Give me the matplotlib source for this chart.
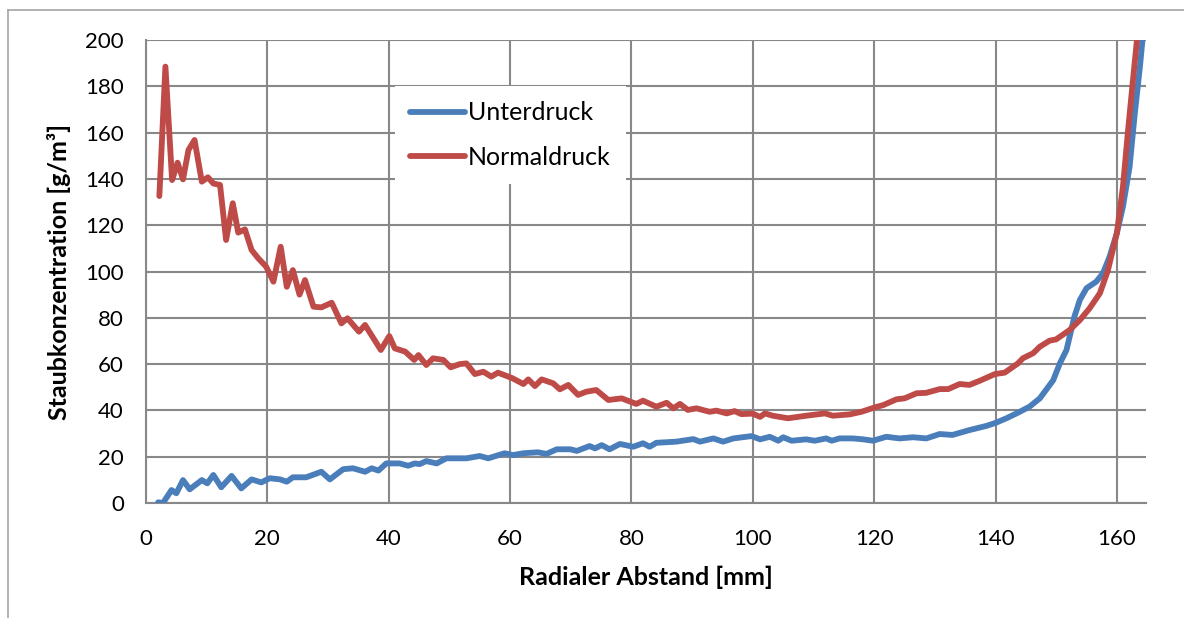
import matplotlib
matplotlib.use('Agg')
import matplotlib.pyplot as plt
from matplotlib.lines import Line2D

# Values.
x_unter = [2.0, 2.8, 4.2, 5.0, 6.1, 7.2, 9.2, 10.1, 11.1, 12.4, 14.1, 15.7, 17.4, 19.0,
           20.4, 22.1, 23.2, 24.2, 26.4, 28.9, 30.3, 32.5, 34.1, 36.1, 37.2, 38.3, 39.6,
           41.8, 43.2, 44.3, 45.1, 46.2, 47.9, 49.5, 52.8, 55.0, 56.4, 59.1, 60.5, 62.2,
           64.6, 66.0, 67.7, 69.9, 71.0, 73.1, 74.0, 75.1, 76.4, 78.1, 80.3, 81.9, 83.0,
           84.1, 87.4, 90.2, 91.3, 93.5, 95.1, 96.8, 99.8, 101.2, 102.8, 104.2, 105.0,
           106.4, 108.8, 110.2, 112.1, 113.0, 114.3, 116.5, 118.2, 119.8, 122.0, 124.2,
           126.4, 128.6, 130.8, 132.9, 135.7, 138.5, 140.1, 141.8, 143.7, 145.6, 147.3,
           149.5, 150.6, 151.7, 153.0, 153.9, 155.0, 156.6, 157.7, 158.8, 160.0, 161.0,
           162.1, 162.9, 163.8, 164.4]
y_unter = [0.3, 0.0, 5.6, 4.2, 9.9, 5.9, 9.9, 8.5, 12.1, 6.8, 11.7, 6.3, 10.2, 8.9,
           10.7, 10.2, 9.2, 11.1, 11.1, 13.5, 10.2, 14.6, 15.0, 13.5, 15.0, 14.0, 17.1,
           17.1, 16.1, 17.1, 16.8, 18.1, 17.1, 19.3, 19.3, 20.3, 19.3, 21.5, 20.7, 21.5,
           21.9, 21.2, 23.2, 23.2, 22.5, 24.6, 23.6, 25.0, 23.2, 25.5, 24.3, 25.8, 24.3,
           26.0, 26.5, 27.6, 26.5, 27.9, 26.5, 27.9, 28.9, 27.5, 28.6, 26.9, 28.4,
           26.9, 27.5, 26.9, 27.9, 26.9, 27.9, 27.9, 27.5, 26.9, 28.6, 27.9,
           28.4, 27.9, 29.8, 29.4, 31.5, 33.3, 34.7, 36.6, 39.0, 41.6, 45.2,
           53.0, 60.3, 66.1, 80.5, 87.7, 92.8, 95.6, 99.2, 106.4, 116.6, 128.0,
           145.3, 166.9, 188.5, 205.0]

x_normal = [2.2, 3.2, 4.3, 5.2, 6.1, 7.0, 8.0, 9.2, 10.2, 11.1, 12.2, 13.2, 14.3, 15.2,
            16.3, 17.4, 18.5, 19.8, 21.0, 22.2, 23.2, 24.2, 25.3, 26.2, 27.6, 28.9, 30.6,
            32.2, 33.2, 35.1, 36.1, 38.7, 40.1, 41.0, 42.7, 44.2, 44.9, 46.2, 47.3, 49.0,
            50.2, 51.7, 52.8, 54.2, 55.6, 56.9, 58.0, 60.3, 62.2, 63.0, 64.1, 65.2, 67.1,
            68.2, 69.6, 71.2, 72.6, 74.2, 76.2, 78.4, 80.8, 81.9, 84.1, 85.8, 86.9, 88.0,
            89.3, 90.7, 92.9, 94.0, 95.7, 97.0, 98.1, 100.0, 101.2, 102.0, 103.3, 105.8,
            108.8, 111.9, 113.2, 116.0, 117.9, 120.1, 121.5, 123.7, 125.0, 127.0, 128.6,
            130.8, 132.2, 134.1, 135.7, 137.4, 139.9, 141.5, 143.7, 144.5, 146.2, 147.3,
            148.9, 150.0, 152.2, 153.9, 155.5, 157.2, 158.5, 160.0, 161.0, 161.8, 162.6,
            163.5]
y_normal = [132.6, 188.5, 139.5, 147.0, 139.8, 152.5, 156.8, 138.8, 140.7, 138.0, 137.4,
            113.6, 129.5, 116.8, 118.2, 109.3, 105.7, 102.1, 95.6, 110.7, 93.4, 100.6,
            90.0, 96.3, 84.8, 84.5, 86.5, 77.6, 79.8, 74.0, 76.9, 66.1, 72.1, 66.8, 65.4,
            61.8, 63.9, 59.6, 62.5, 61.8, 58.6, 60.0, 60.3, 55.7, 56.7, 54.6, 56.3, 54.0,
            51.4, 53.4, 50.5, 53.4, 51.7, 49.1, 51.0, 46.7, 48.1, 48.8, 44.5, 45.2, 42.8,
            44.2, 41.6, 43.3, 40.9, 42.8, 40.2, 40.9, 39.4, 39.9, 38.7, 39.7, 38.4, 38.6,
            37.2, 38.7, 37.7, 36.6, 37.7, 38.7, 37.7, 38.3, 39.4, 41.3, 42.3, 44.8, 45.2,
            47.4, 47.6, 49.2, 49.2, 51.4, 51.0, 52.8, 55.7, 56.3, 60.3, 62.5, 64.7, 67.5,
            70.1, 70.7, 74.7, 79.0, 84.1, 90.6, 100.3, 116.6, 136.6, 159.7, 181.3,
            205.0]

x_ticks = [0, 20, 40, 60, 80, 100, 120, 140, 160]
y_ticks = [0, 20, 40, 60, 80, 100, 120, 140, 160, 180, 200]

plt.rcParams['font.family'] = ['Lato', 'DejaVu Sans']

fig = plt.figure(figsize=(11.84, 6.18), dpi=100)
ax = fig.add_axes([146 / 1184, 1 - 503 / 618, 1000 / 1184, 463 / 618])

grid_col = '#888888'
ax.plot(x_unter, y_unter, color='#4A7EBB', lw=4.2, label='Unterdruck',
        solid_capstyle='round', solid_joinstyle='round', zorder=3)
ax.plot(x_normal, y_normal, color='#BE4B48', lw=4.2, label='Normaldruck',
        solid_capstyle='round', solid_joinstyle='round', zorder=3)

ax.set_xlim(0, 164.8)
ax.set_ylim(0, 200)
ax.set_xticks(x_ticks)
ax.set_yticks(y_ticks)
ax.grid(True, color=grid_col, lw=1.5)
ax.set_axisbelow(True)
for side in ['top', 'right']:
    ax.spines[side].set_visible(False)
for side in ['left', 'bottom']:
    ax.spines[side].set_color(grid_col)
    ax.spines[side].set_linewidth(1.5)
ax.tick_params(length=0, labelsize=16)
ax.tick_params(axis='x', pad=19)
ax.tick_params(axis='y', pad=16)

ax.set_xlabel('Radialer Abstand [mm]', fontsize=18, fontweight='bold', labelpad=12)
ax.set_ylabel('Staubkonzentration [g/m³]', fontsize=18, fontweight='bold', labelpad=10)

leg = ax.legend(loc='upper left', bbox_to_anchor=(0.236, 0.927), frameon=True,
                fontsize=18, handlelength=2.2, handletextpad=0.15, labelspacing=0.85,
                borderpad=0.6, fancybox=False)
leg.get_frame().set_facecolor('white')
leg.get_frame().set_edgecolor('none')
leg.get_frame().set_alpha(1)
for h in leg.get_lines():
    h.set_linewidth(4.2)

# Outer chart border.
fig.add_artist(Line2D([8 / 1184, 8 / 1184], [0, 1 - 10 / 618], color='#A6A6A6', lw=1.2))
fig.add_artist(Line2D([8 / 1184, 1], [1 - 10 / 618, 1 - 10 / 618], color='#A6A6A6', lw=1.2))

fig.savefig('out.png', dpi=100)
